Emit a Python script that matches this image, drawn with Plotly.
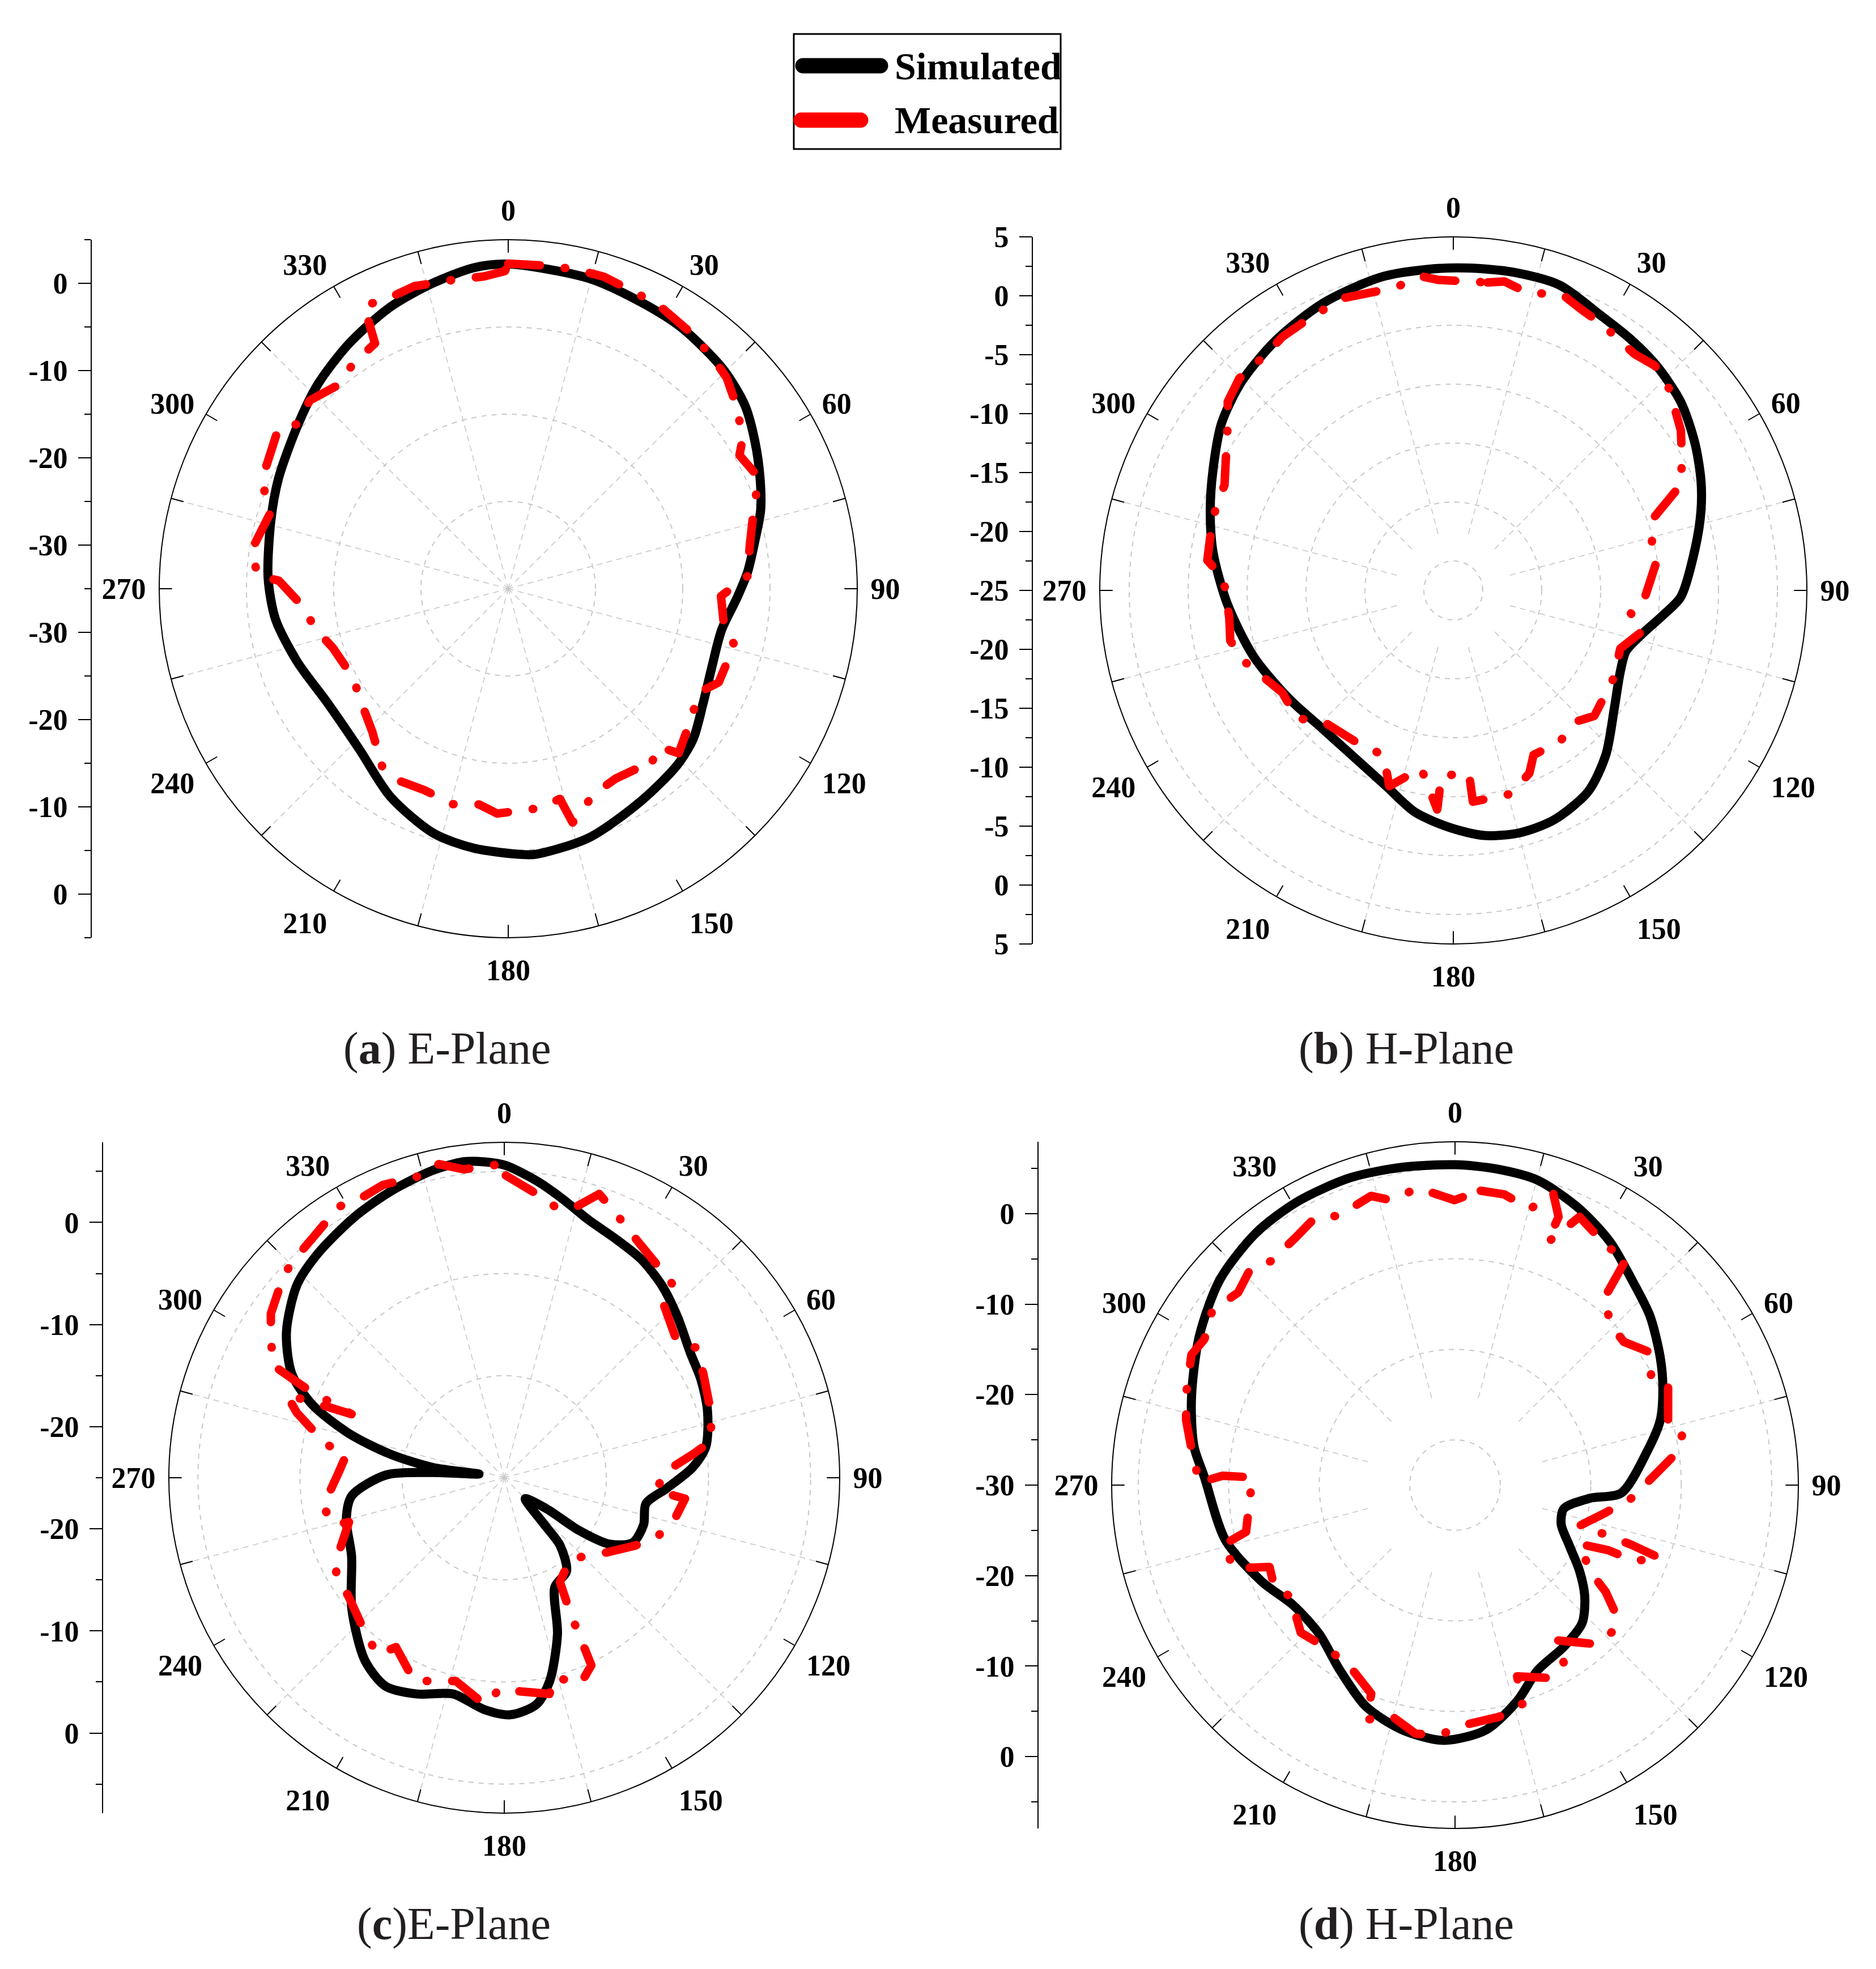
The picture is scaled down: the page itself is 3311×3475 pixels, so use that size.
import plotly.graph_objects as go

W, H = 3311, 3475
OFF = 8  # browser body margin compensation (px)

# ---------------- data (theta in degrees, r in dB) ----------------
A_SIM_THETA = [0, 14.5, 24.7, 33.7, 44.5, 52.3, 59.3, 66.4, 72.7, 79, 86, 92.5, 101, 111, 120.4, 129, 136.3, 148, 162, 174, 177,
               187.5, 197, 209.5, 222.8, 237.7, 251, 262.5, 272.6, 286, 295.6, 307.5, 316.9, 327, 337.3, 346, 353.9, 360]
A_SIM_R = [2.2, 1.75, 1.2, 0.9, 0.2, -0.7, -2.1, -3.5, -4.7, -6.2, -7.5, -8.8, -10.1, -10.0, -9.1, -7.7, -7.0, -6.3, -5.0, -4.4, -4.5,
           -5.0, -5.7, -7.6, -9.9, -10.5, -9.4, -8.1, -7.45, -6.7, -5.8, -4.5, -3.0, -1.5, 0.0, 1.05, 2.0, 2.2]
A_MEAS_THETA = [0, 7, 12, 17, 24, 29, 36, 42, 46, 50, 57, 60, 66, 74, 80, 87, 92, 99, 104, 114, 118.5, 126, 134, 136.4, 142.4,
                145, 150.5, 157.4, 164.6, 166.2, 172, 182.8, 187.7, 194.4, 202.6, 209.4, 215, 223.6, 231.4, 240.4, 251.3,
                258.3, 265, 272, 273, 278.8, 287.8, 291, 296.4, 304.8, 307.9, 313.5, 320.2, 325.3, 331.5, 333, 337.4,
                342.7, 349.9, 355.6, 359.4, 360]
A_MEAS_R = [2.25, 2.3, 2.4, 2.4, 1.9, 1.65, 1.0, 0.3, -0.2, -1.2, -2.9, -4.4, -3.6, -5.85, -6.9, -7.55, -10.6, -10.0, -8.3, -8.6,
            -10.1, -9.2, -7.85, -10.0, -8.7, -9.7, -10.0, -9.5, -7.2, -10.2, -9.6, -9.2, -10.05, -9.5, -10.0, -9.7, -9.9,
            -12.4, -13.6, -14.5, -13.8, -12.4, -11.4, -8.7, -6.2, -5.3, -6.4, -5.05, -3.95, -2.9, -4.3, -3.65, -4.6, -3.7,
            -3.0, 1.4, 1.0, 1.3, 0.95, 0.9, 1.4, 2.25]

B_SIM_THETA = [2.5, 10.7, 19.2, 27.9, 35, 42.3, 50.4, 58.7, 66, 72.2, 80, 91.7, 96.6, 103.6, 109.4, 116, 126.2, 137.2, 146.1,
               156.3, 164.8, 172.8, 180.8, 189.8, 198.9, 209.4, 223.3, 237, 251.7, 266.5, 279, 288.1, 296.7, 305.9, 314.7,
               324.8, 335.6, 346.9, 355.3, 362.5]
B_SIM_R = [2.38, 2.48, 2.43, 1.5, 1.1, 0.7, 0.06, -1.0, -2.0, -2.93, -4.15, -5.7, -7.05, -8.67, -9.47, -9.24, -8.07, -5.96,
           -4.46, -3.74, -3.68, -4.04, -4.87, -5.91, -7.44, -8.45, -8.85, -8.28, -7.15, -5.8, -4.36, -3.3, -2.18, -0.74,
           0.24, 1.03, 1.76, 2.28, 2.33, 2.38]
B_MEAS_THETA = [6.3, 9.4, 14, 20.2, 24.5, 29.4, 37.5, 41.9, 47, 54.9, 60.1, 65.1, 69.8, 76.3, 80.9, 91.9, 97, 101.9, 109.2,
                118.3, 131.7, 136.6, 145, 154, 157.4, 164.3, 174.7, 175.1, 183.7, 184.2, 190.3, 198.1, 203, 211, 224.9,
                230.7, 239.1, 251.1, 257.3, 263.1, 273, 277, 282.4, 289.6, 294.7, 300, 306.2, 309.9, 314.7, 321.3, 326,
                331.9, 339.3, 344.2, 349.1, 354.1, 357.2, 366.3]
B_MEAS_R = [1.29, 1.57, 1.03, 1.76, 1.2, 0.85, 0.27, 0.62, 0.06, -1.4, -2.62, -3.72, -6.77, -7.66, -7.43, -8.72, -9.9, -8.53,
            -10.0, -9.5, -8.98, -9.73, -9.3, -9.47, -8.2, -7.06, -6.99, -9.43, -9.24, -6.36, -9.68, -7.52, -9.83, -9.72,
            -9.32, -7.85, -8.1, -6.3, -5.6, -5.85, -5.47, -3.97, -3.88, -3.63, -3.63, -2.71, -1.27, -0.05, 0.56, 0.56,
            0.94, 1.12, 1.51, 1.24, 1.16, 1.8, 1.38, 1.29]

C_SIM_THETA = [0.2, 6.2, 11.8, 18.1, 24.7, 32, 39.2, 47, 56.1, 63.3, 71.6, 81.2, 86.8, 93.7, 100.4, 108.6, 116.8, 122.2, 125.2,
               126.2, 135, 139.4, 140.5, 146.3, 155.2, 161.2, 167.4, 171.9, 178.5, 184.9, 193.3, 202, 209.7, 217.4, 229.5,
               242.9, 255.2, 263.2, 271.3, 274.1, 278.3, 278.2, 281.7, 285.9, 290.8, 296.1, 303.8, 312.9, 320.2, 330,
               338.4, 346.8, 352.7, 356.4, 360.2]
C_SIM_R = [5.6, 4.25, 2.9, 1.57, 0.84, 0.26, -0.63, -1.83, -3.05, -3.46, -4.03, -5.02, -6.5, -9.05, -10.9, -10.6, -10.9, -12.8,
           -16.1, -19.8, -22.1, -19.0, -16.4, -14.0, -13.2, -8.83, -4.6, -2.58, -1.78, -2.21, -3.24, -2.16, -1.51, -2.51,
           -5.35, -8.2, -9.0, -9.95, -13.4, -17.9, -22.5, -17.9, -13.6, -9.19, -4.91, -1.82, 0.67, 2.72, 3.55, 4.44, 5.18,
           5.9, 6.2, 6.0, 5.6]
C_MEAS_THETA = [0.3, 6.5, 11.2, 14.8, 18.5, 22.6, 28, 35.5, 41.2, 42.9, 51.9, 55.7, 62.4, 72.5, 80, 82.9, 88.1, 94.9, 96.6,
                103.7, 110.3, 117.3, 129.9, 140.7, 151.9, 154, 154.6, 155.1, 159.6, 165.8, 168.2, 175.5, 181.1, 185, 193.4,
                198.8, 203.9, 212.6, 215.6, 222.3, 232.3, 240.2, 245.5, 254.1, 254.5, 261, 271.8, 278.4, 280.7, 287.4,
                290.9, 291.5, 292.6, 294.2, 295.9, 300.6, 305.1, 312.7, 316.9, 321.3, 328.6, 332.5, 337.5, 345.2, 348.2,
                352.5, 359.2, 360.3]
C_MEAS_R = [4.6, 2.98, 1.89, 2.43, 4.3, 3.18, 1.86, 0.68, 0.09, -2.0, -3.48, -2.35, -3.0, -3.77, -4.44, -6.39, -9.33, -10.05,
            -7.18, -7.83, -8.84, -10.53, -13.23, -14.78, -13.43, -10.23, -7.5, -4.75, -3.5, -4.85, -3.37, -4.0, -4.34,
            -2.72, -4.54, -3.98, -3.23, -5.31, -3.68, -4.66, -5.8, -6.0, -7.17, -9.19, -7.7, -7.03, -8.77, -9.37, -7.19,
            -3.71, -2.16, -4.82, -8.8, -3.85, 0.12, 1.56, 2.94, 4.36, 4.71, 5.05, 6.1, 5.76, 6.04, 5.67, 6.38, 5.46, 5.7,
            4.6]

D_SIM_THETA = [0, 7.4, 15.2, 24.3, 32.7, 40.6, 49, 58.1, 65.1, 72.4, 80, 92.7, 95.6, 102.2, 110.2, 117.7, 124.6, 130.8, 137.4,
               146, 155.9, 164, 172.8, 182.5, 192.1, 201.9, 211.9, 222.5, 233.5, 243.5, 256.6, 271.8, 278.5, 288.1, 300.1,
               311.2, 321.8, 331.1, 341.2, 350.6, 360]
D_SIM_R = [5.4, 5.23, 4.9, 3.47, 1.83, -0.03, -1.47, -3.29, -4.68, -6.2, -8.43, -11.6, -15.04, -17.7, -17.5, -15.76, -13.28,
           -11.06, -9.26, -8.47, -7.6, -5.15, -2.73, -1.77, -2.33, -3.63, -5.92, -7.75, -7.73, -6.13, -3.9, -2.3, -0.83,
           0.64, 2.68, 4.51, 5.5, 5.84, 5.88, 5.6, 5.4]
D_MEAS_THETA = [5, 9.6, 15.2, 18.6, 21.1, 20.8, 24.9, 32.9, 36.8, 37.3, 38.7, 45.4, 49.7, 55.7, 62, 65.1, 73, 76.5, 81.9, 87.7,
                94.2, 100.4, 108.1, 108.2, 108.7, 109.6, 112.9, 113, 115.3, 122.5, 125.3, 129.1, 132.6, 138.6, 146.9,
                148.6, 154.4, 162, 162.9, 169.3, 177.6, 183.7, 189, 195, 200.6, 201.9, 210.3, 218.2, 226.3, 236, 240,
                246.2, 249.3, 255.5, 257.4, 272.2, 272.3, 270.6, 277.9, 283.6, 288.7, 296.3, 300.2, 305.7, 311.6, 316.6,
                320.6, 327.2, 332.3, 336.7, 343.8, 347.3, 352.9, 359.9, 365]
D_MEAS_R = [2.65, 2.58, 1.62, 4.02, 1.78, -1.36, 2.69, 1.19, 1.63, 0.77, -3.83, -5.41, -5.53, -3.94, -5.43, -4.04, -5.38,
            -4.01, -5.35, -8.16, -10.43, -13.09, -15.53, -12.49, -9.39, -5.94, -8.51, -11.6, -14.78, -12.32, -9.6, -6.92,
            -6.2, -6.59, -9.53, -6.87, -6.38, -7.79, -4.7, -3.93, -3.49, -2.31, -2.19, -3.48, -2.33, -5.18, -6.86, -7.08,
            -6.42, -8.06, -7.0, -7.6, -3.97, -3.48, -6.34, -7.59, -4.3, -1.73, -0.59, 0.57, 1.37, 2.49, 2.04, 3.04, 2.05,
            2.9, 2.03, 2.53, 3.34, 2.41, 3.27, 2.28, 3.07, 1.49, 2.65]

ANGLE_TICKS = list(range(0, 360, 15))
ANGLE_LABELS = [str(a) if a % 30 == 0 else "" for a in ANGLE_TICKS]
SPOKE_ANGLES = list(range(15, 360, 30))

A_LEFT_LABELS = [0, -10, -20, -30]
B_LEFT_LABELS = [5, 0, -5, -10, -15, -20, -25]
C_LEFT_LABELS = [0, -10, -20]
D_LEFT_LABELS = [0, -10, -20, -30]

CAPTIONS = ["(<b>a</b>) E-Plane", "(<b>b</b>) H-Plane", "(<b>c</b>)E-Plane", "(<b>d</b>) H-Plane"]
LEGEND_NAMES = ["Simulated", "Measured"]

# ---------------- layout geometry ----------------
panels = [
    dict(sim=(A_SIM_THETA, A_SIM_R), meas=(A_MEAS_THETA, A_MEAS_R), cx=897, cy=1039, R=616, rmin=-35, rmax=5,
         grid=[-25, -15, -5], spoke0=-35, axx=162, labels=A_LEFT_LABELS, minor=5, cap=(789, 1850)),
    dict(sim=(B_SIM_THETA, B_SIM_R), meas=(B_MEAS_THETA, B_MEAS_R), cx=2565, cy=1042, R=624, rmin=-25, rmax=5,
         grid=[-22.5, -17.5, -12.5, -7.5, -2.5, 2.5], spoke0=-20, axx=1823, labels=B_LEFT_LABELS, minor=2.5,
         cap=(2482, 1850)),
    dict(sim=(C_SIM_THETA, C_SIM_R), meas=(C_MEAS_THETA, C_MEAS_R), cx=890, cy=2608, R=592, rmin=-25, rmax=7.85,
         grid=[-15, -5, 5], spoke0=-25, axx=182, labels=C_LEFT_LABELS, minor=5, cap=(801, 3395)),
    dict(sim=(D_SIM_THETA, D_SIM_R), meas=(D_MEAS_THETA, D_MEAS_R), cx=2568, cy=2621, R=606, rmin=-30, rmax=7.94,
         grid=[-25, -15, -5, 5], spoke0=-20, axx=1833, labels=D_LEFT_LABELS, minor=5, cap=(2482, 3395)),
]


def px(x):
    return (x - OFF) / W


def py(y):
    return 1 - (y - OFF) / H


FONT = "Liberation Serif"
TICKFONT = dict(family=FONT, size=52, color="black", weight="bold")
TICKLEN = 22
fig = go.Figure()
layout = dict(width=W, height=H, autosize=False,
              margin=dict(l=0, r=0, t=0, b=0, pad=0, autoexpand=False),
              paper_bgcolor="white", plot_bgcolor="white",
              showlegend=False, annotations=[], shapes=[])

for i, p in enumerate(panels):
    sfx = "" if i == 0 else str(i + 1)
    pid = "polar" + sfx
    span = p["rmax"] - p["rmin"]
    # spokes (angular grid, offset by 15 deg)
    st, sr = [], []
    for a in SPOKE_ANGLES:
        st += [a, a, None]
        sr += [p["spoke0"], p["rmax"], None]
    fig.add_trace(go.Scatterpolar(theta=st, r=sr, mode="lines", subplot=pid, hoverinfo="skip", showlegend=False,
                                  line=dict(color="#c8c8c8", width=1.6, dash="dash"), connectgaps=False))
    # inward angular ticks every 15 deg
    tin = TICKLEN / p["R"] * span
    kt, kr = [], []
    for a in ANGLE_TICKS:
        kt += [a, a, None]
        kr += [p["rmax"] - tin, p["rmax"], None]
    fig.add_trace(go.Scatterpolar(theta=kt, r=kr, mode="lines", subplot=pid, hoverinfo="skip", showlegend=False,
                                  line=dict(color="black", width=2), connectgaps=False))
    fig.add_trace(go.Scatterpolar(theta=p["sim"][0], r=p["sim"][1], mode="lines", subplot=pid, name=LEGEND_NAMES[0],
                                  line=dict(color="black", width=16, shape="spline", smoothing=0.8)))
    fig.add_trace(go.Scatterpolar(theta=p["meas"][0], r=p["meas"][1], mode="lines", subplot=pid, name=LEGEND_NAMES[1],
                                  line=dict(color="#ff0000", width=15, dash="56px,44px,1px,44px")))
    x0, x1 = p["cx"] - p["R"], p["cx"] + p["R"]
    y0, y1 = p["cy"] - p["R"], p["cy"] + p["R"]
    layout[pid] = dict(
        domain=dict(x=[px(x0), px(x1)], y=[py(y1), py(y0)]),
        bgcolor="white",
        radialaxis=dict(range=[p["rmin"], p["rmax"]], showline=False, showticklabels=False, ticks="",
                        tickmode="array", tickvals=p["grid"], showgrid=True, gridcolor="#c8c8c8",
                        griddash="dash", gridwidth=1.6),
        angularaxis=dict(rotation=90, direction="clockwise", tickmode="array", tickvals=ANGLE_TICKS,
                         ticktext=ANGLE_LABELS, ticks="outside", ticklen=12, tickwidth=1,
                         tickcolor="rgba(0,0,0,0)",
                         showline=True, linecolor="black", linewidth=2, showgrid=False, tickfont=TICKFONT),
    )
    # left dB axis
    xa = "x" + sfx
    ya = "y" + sfx
    lo = 2 * p["rmin"] - p["rmax"]
    top_labels = p["labels"]
    tv = [v for v in top_labels] + [2 * p["rmin"] - v for v in reversed(top_labels)]
    tt = [str(v) for v in top_labels] + [str(v) for v in reversed(top_labels)]
    fig.add_trace(go.Scatter(x=[0], y=[p["rmin"]], mode="markers", marker=dict(opacity=0), xaxis=xa, yaxis=ya,
                             hoverinfo="skip", showlegend=False))
    layout["xaxis" + sfx] = dict(domain=[px(p["axx"]), px(p["axx"] + 10)], visible=False, range=[0, 1],
                                 anchor=ya, fixedrange=True, automargin=False)
    layout["yaxis" + sfx] = dict(domain=[py(y1), py(y0)], range=[lo, p["rmax"]], anchor=xa, showline=True,
                                 linecolor="black", linewidth=2, ticks="outside", ticklen=TICKLEN, tickwidth=2,
                                 tickcolor="black", showgrid=False, zeroline=False, tickmode="array",
                                 tickvals=tv, ticktext=tt, fixedrange=True, automargin=False,
                                 tickfont=TICKFONT, ticklabelstandoff=8,
                                 minor=dict(ticks="outside", ticklen=11, tickwidth=2, tickcolor="black",
                                            tick0=0, dtick=p["minor"], showgrid=False))
    layout["annotations"].append(dict(text=CAPTIONS[i], x=px(p["cap"][0]), y=py(p["cap"][1]), xref="paper",
                                      yref="paper", showarrow=False, xanchor="center", yanchor="middle",
                                      font=dict(family=FONT, size=80, color="#231f20")))

# ---------------- legend (drawn) ----------------
layout["shapes"] += [
    dict(type="rect", xref="paper", yref="paper", x0=px(1401), x1=px(1872), y0=py(263), y1=py(60),
         line=dict(color="black", width=3), fillcolor="white"),
    dict(type="line", xref="paper", yref="paper", x0=px(1417), x1=px(1554), y0=py(116), y1=py(116),
         line=dict(color="black", width=27)),
    dict(type="line", xref="paper", yref="paper", x0=px(1414), x1=px(1519), y0=py(212), y1=py(212),
         line=dict(color="#ff0000", width=27)),
]
for name, yy in zip(LEGEND_NAMES, [117, 212]):
    layout["annotations"].append(dict(text="<b>%s</b>" % name, x=px(1577), y=py(yy), xref="paper", yref="paper",
                                      showarrow=False, xanchor="left", yanchor="middle",
                                      font=dict(family=FONT, size=68, color="black")))

fig.update_layout(**layout)

ROUND_CAPS_JS = (
    "document.querySelectorAll('path.js-line').forEach(function(p){"
    "p.style.strokeLinecap='round';p.style.strokeLinejoin='round';});"
    "document.querySelectorAll('.shapelayer path').forEach(function(p){"
    "p.style.strokeLinecap='round';});"
)
fig.write_html("out.html", post_script=ROUND_CAPS_JS)
